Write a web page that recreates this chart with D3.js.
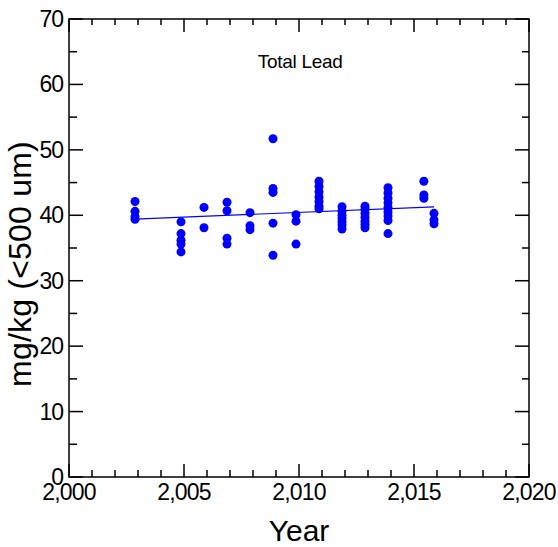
<!DOCTYPE html>
<html>
<head>
<meta charset="utf-8">
<script src="https://cdn.jsdelivr.net/npm/d3@7"></script>
<style>
  body { margin: 0; background: #fff; }
  text { font-family: "Liberation Sans", Arial, sans-serif; fill: #000; }
</style>
</head>
<body>
<svg id="chart" width="558" height="547"></svg>
<script>
// sample dates (decimal year) and total lead, mg/kg (<500 um)
const years = [
  2002.87, 2002.87, 2002.87, 2002.87,
  2004.87, 2004.87, 2004.87, 2004.87, 2004.87,
  2005.87, 2005.87,
  2006.87, 2006.87, 2006.87, 2006.87,
  2007.87, 2007.87, 2007.87,
  2008.87, 2008.87, 2008.87, 2008.87, 2008.87,
  2009.87, 2009.87, 2009.87,
  2010.87, 2010.87, 2010.87, 2010.87, 2010.87, 2010.87, 2010.87,
  2011.87, 2011.87, 2011.87, 2011.87, 2011.87, 2011.87, 2011.87,
  2012.87, 2012.87, 2012.87, 2012.87, 2012.87, 2012.87, 2012.87,
  2013.87, 2013.87, 2013.87, 2013.87, 2013.87, 2013.87, 2013.87, 2013.87, 2013.87,
  2015.43, 2015.43, 2015.43,
  2015.87, 2015.87, 2015.87
]
const lead = [
  42.1, 40.6, 39.8, 39.4,
  39.0, 37.2, 36.2, 35.6, 34.4,
  41.2, 38.1,
  42.0, 40.7, 36.5, 35.6,
  40.4, 38.4, 37.8,
  51.7, 44.1, 43.5, 38.8, 33.9,
  40.1, 39.1, 35.6,
  45.2, 44.4, 43.6, 42.8, 42.1, 41.4, 41.0,
  41.3, 40.6, 40.0, 39.5, 39.0, 38.5, 37.9,
  41.4, 40.9, 40.3, 39.7, 39.1, 38.6, 38.1,
  44.2, 43.4, 42.6, 41.9, 41.2, 40.5, 39.9, 39.2, 37.2,
  45.2, 43.1, 42.6,
  40.3, 39.3, 38.7
]
// fitted trend line end points
const fitYears = [2002.87, 2015.87]
const fitLead = [39.4, 41.3]

const xTicks = [2000, 2005, 2010, 2015, 2020]
const yTicks = [0, 10, 20, 30, 40, 50, 60, 70]
const xMinor = d3.range(2000, 2021, 1)
const yMinor = d3.range(0, 71, 5)

const svg = d3.select('#chart')
const margin = {left: 69, right: 29, top: 19, bottom: 70}
const width = 558 - margin.left - margin.right
const height = 547 - margin.top - margin.bottom

const x = d3.scaleLinear().domain([2000, 2020]).range([0, width])
const y = d3.scaleLinear().domain([0, 70]).range([height, 0])

const g = svg.append('g')
  .attr('transform', 'translate(' + margin.left + ',' + margin.top + ')')

const fmt = d3.format(',')

// ticks on all four sides, pointing inward
function drawTicks(sel, vals, isMajor, pos) {
  sel.selectAll(null)
    .data(vals)
    .enter()
    .append('line')
    .attr('stroke', '#000')
    .attr('stroke-width', 1.5)
    .each(function(d) {
      const big = isMajor(d)
      const el = d3.select(this)
      if (pos === 'bottom') {
        el.attr('x1', x(d)).attr('x2', x(d)).attr('y1', height).attr('y2', height - (big ? 13 : 7))
      } else if (pos === 'top') {
        el.attr('x1', x(d)).attr('x2', x(d)).attr('y1', 0).attr('y2', big ? 13 : 6)
      } else if (pos === 'left') {
        el.attr('y1', y(d)).attr('y2', y(d)).attr('x1', 0).attr('x2', big ? 14 : 8)
      } else {
        el.attr('y1', y(d)).attr('y2', y(d)).attr('x1', width).attr('x2', width - (big ? 14 : 7))
      }
    })
}

const xMaj = d => d % 5 === 0
const yMaj = d => d % 10 === 0
drawTicks(g, xMinor, xMaj, 'bottom')
drawTicks(g, xMinor, xMaj, 'top')
drawTicks(g, yMinor, yMaj, 'left')
drawTicks(g, yMinor, yMaj, 'right')

g.append('rect')
  .attr('width', width)
  .attr('height', height)
  .attr('fill', 'none')
  .attr('stroke', '#000')
  .attr('stroke-width', 1.5)

// tick labels
g.selectAll('.xlab')
  .data(xTicks)
  .enter()
  .append('text')
  .attr('class', 'xlab')
  .attr('x', d => x(d))
  .attr('y', height + 23)
  .attr('text-anchor', 'middle')
  .style('font-size', '23px')
  .style('letter-spacing', '-0.8px')
  .text(d => fmt(d))

g.selectAll('.ylab')
  .data(yTicks)
  .enter()
  .append('text')
  .attr('class', 'ylab')
  .attr('x', -6)
  .attr('y', d => y(d) + 8)
  .attr('text-anchor', 'end')
  .style('font-size', '23px')
  .style('letter-spacing', '-1px')
  .text(d => d)

// axis titles
svg.append('text')
  .attr('x', margin.left + width / 2)
  .attr('y', 541)
  .attr('text-anchor', 'middle')
  .style('font-size', '30px')
  .text('Year')

svg.append('text')
  .attr('transform', 'translate(31,264) rotate(-90)')
  .attr('text-anchor', 'middle')
  .style('font-size', '32px')
  .style('letter-spacing', '0.2px')
  .text('mg/kg (<500 um)')

g.append('text')
  .attr('x', x(2010.05))
  .attr('y', 49)
  .attr('text-anchor', 'middle')
  .style('font-size', '19px')
  .style('letter-spacing', '-0.3px')
  .text('Total Lead')

// trend line
const line = d3.line()
  .x(d => x(d[0]))
  .y(d => y(d[1]))
g.append('path')
  .datum(d3.zip(fitYears, fitLead))
  .attr('d', line)
  .attr('fill', 'none')
  .attr('stroke', '#0000ff')
  .attr('stroke-width', 1.2)

// points
g.selectAll('.pt')
  .data(d3.zip(years, lead))
  .enter()
  .append('circle')
  .attr('class', 'pt')
  .attr('cx', d => x(d[0]))
  .attr('cy', d => y(d[1]))
  .attr('r', 4.5)
  .attr('fill', '#0000ff')
</script>
</body>
</html>
